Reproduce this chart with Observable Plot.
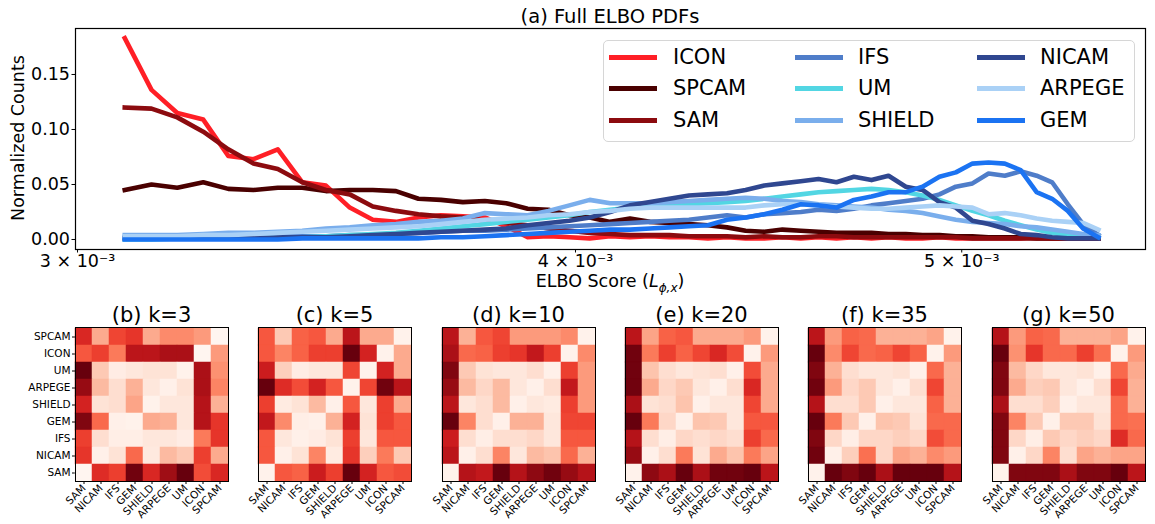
<!DOCTYPE html>
<html><head><meta charset="utf-8">
<script src="https://cdn.jsdelivr.net/npm/d3@7"></script>
<script src="https://cdn.jsdelivr.net/npm/@observablehq/plot@0.6"></script>
<style>
body{margin:0;background:#fff;font-family:"DejaVu Sans",sans-serif;color:#000;}
#root{position:relative;width:1155px;height:524px;overflow:hidden;background:#fff;}
.abs{position:absolute;white-space:nowrap;}
.leg-line{position:absolute;height:5px;width:48px;}
.leg-text{position:absolute;font-size:21px;line-height:21px;}
</style></head><body><div id="root"></div>
<script>
// ---------- data: top panel ----------
const models = ["ICON","SPCAM","SAM","IFS","UM","SHIELD","NICAM","ARPEGE","GEM"];
const modelColors = ["#ff1f26","#4a0000","#8c0b0f","#4f7dc9","#52d6e3","#7aaeec","#2f4790","#aad1f6","#1b73f2"];
// ELBO bin centres (x 1e-3)
const elboScore = [3.083,3.131,3.178,3.226,3.273,3.321,3.368,3.416,3.463,3.511,3.558,3.606,3.653,3.701,3.748,3.796,3.843,3.891,3.938,3.986,4.033,4.081,4.128,4.176,4.223,4.271,4.318,4.366,4.413,4.461,4.508,4.556,4.603,4.651,4.698,4.746,4.793,4.841,4.888,4.936,4.983,5.031,5.078,5.126,5.173,5.221,5.268,5.316,5.363,5.411];
const icon   = [0.183,0.136,0.115,0.109,0.076,0.073,0.082,0.052,0.049,0.029, 0.018,0.016,0.020,0.022,0.021,0.020,0.012,0.002,0.003,0.002, 0.001,0.003,0.002,0.003,0.002,0.002,0.001,0.002,0.001,0.001, 0.002,0.001,0.002,0.001,0.002,0.001,0.002,0.001,0.001,0.002, 0.001,0.001,0.001,0.001,0.001,0.002,0.001,0.001,0.001,0.001];
const spcam  = [0.045,0.050,0.047,0.052,0.046,0.045,0.047,0.047,0.044,0.045, 0.045,0.044,0.037,0.036,0.034,0.035,0.033,0.028,0.027,0.022, 0.020,0.016,0.019,0.016,0.015,0.014,0.013,0.011,0.008,0.007, 0.009,0.008,0.007,0.006,0.006,0.006,0.005,0.005,0.004,0.004, 0.003,0.003,0.002,0.002,0.002,0.001,0.001,0.001,0.001,0.001];
const sam    = [0.120,0.119,0.111,0.098,0.082,0.069,0.064,0.052,0.045,0.041, 0.030,0.026,0.023,0.021,0.020,0.017,0.015,0.013,0.010,0.008, 0.006,0.005,0.004,0.004,0.004,0.003,0.003,0.003,0.002,0.003, 0.002,0.002,0.003,0.003,0.002,0.002,0.002,0.002,0.002,0.002, 0.002,0.001,0.001,0.001,0.001,0.001,0.001,0.001,0.001,0.001];
const ifs    = [0.002,0.002,0.002,0.002,0.002,0.002,0.003,0.003,0.003,0.004, 0.004,0.005,0.006,0.007,0.008,0.008,0.009,0.010,0.011,0.012, 0.013,0.014,0.015,0.016,0.017,0.018,0.020,0.022,0.020,0.023, 0.024,0.025,0.027,0.026,0.028,0.031,0.033,0.035,0.037,0.041, 0.048,0.051,0.060,0.058,0.062,0.058,0.052,0.032,0.014,0.004];
const um     = [0.000,0.000,0.001,0.001,0.001,0.001,0.002,0.002,0.003,0.004, 0.005,0.006,0.008,0.010,0.012,0.014,0.016,0.018,0.020,0.022, 0.025,0.027,0.029,0.031,0.032,0.032,0.033,0.034,0.035,0.037, 0.039,0.041,0.043,0.044,0.045,0.046,0.045,0.043,0.040,0.036, 0.031,0.026,0.022,0.017,0.013,0.009,0.006,0.004,0.002,0.002];
const shield = [0.004,0.004,0.004,0.005,0.006,0.006,0.007,0.008,0.010,0.011, 0.013,0.014,0.016,0.017,0.019,0.024,0.023,0.022,0.026,0.031, 0.036,0.033,0.033,0.033,0.034,0.035,0.036,0.037,0.038,0.037, 0.035,0.034,0.032,0.031,0.030,0.029,0.027,0.026,0.024,0.021, 0.018,0.016,0.015,0.014,0.012,0.011,0.009,0.007,0.005,0.004];
const nicam  = [0.001,0.001,0.001,0.001,0.001,0.001,0.002,0.002,0.002,0.003, 0.004,0.005,0.006,0.007,0.008,0.009,0.010,0.013,0.015,0.017, 0.020,0.025,0.031,0.034,0.037,0.040,0.041,0.042,0.045,0.049, 0.051,0.053,0.055,0.052,0.057,0.054,0.058,0.048,0.045,0.034, 0.029,0.017,0.014,0.010,0.005,0.004,0.002,0.001,0.001,0.001];
const arpege = [0.003,0.003,0.003,0.004,0.004,0.005,0.006,0.007,0.008,0.009, 0.010,0.011,0.012,0.014,0.016,0.018,0.019,0.020,0.022,0.023, 0.025,0.026,0.028,0.029,0.029,0.029,0.029,0.029,0.029,0.031, 0.032,0.032,0.031,0.030,0.029,0.028,0.028,0.029,0.030,0.031, 0.030,0.029,0.023,0.024,0.022,0.019,0.017,0.016,0.015,0.009];
const gem    = [0.000,0.000,0.000,0.000,0.000,0.000,0.000,0.001,0.001,0.001, 0.001,0.001,0.001,0.002,0.002,0.003,0.004,0.005,0.006,0.007, 0.008,0.009,0.009,0.010,0.011,0.012,0.013,0.018,0.020,0.023, 0.027,0.032,0.031,0.029,0.036,0.039,0.043,0.043,0.048,0.057, 0.061,0.069,0.070,0.069,0.063,0.043,0.037,0.026,0.010,0.002];
const seriesValues = [icon, spcam, sam, ifs, um, shield, nicam, arpege, gem];
const xTicks = [0.003, 0.004, 0.005];
const xTickLabels = ["3 × 10⁻³", "4 × 10⁻³", "5 × 10⁻³"];
const yTicks = [0, 0.05, 0.10, 0.15];

// ---------- data: distance matrices (rows top→bottom, cols left→right) ----------
const colOrder = ["SAM","NICAM","IFS","GEM","SHIELD","ARPEGE","UM","ICON","SPCAM"];
const rowOrder = ["SPCAM","ICON","UM","ARPEGE","SHIELD","GEM","IFS","NICAM","SAM"];
const panelTitles = ["(b) k=3","(c) k=5","(d) k=10","(e) k=20","(f) k=35","(g) k=50"];
const distK3 = [
 [0.70,0.30,0.60,0.65,0.30,0.40,0.40,0.35,0.00],
 [0.55,0.62,0.45,0.80,0.80,0.85,0.85,0.00,0.35],
 [1.00,0.20,0.05,0.08,0.10,0.10,0.02,0.85,0.38],
 [0.90,0.25,0.12,0.28,0.08,0.03,0.10,0.85,0.42],
 [0.72,0.10,0.12,0.32,0.02,0.08,0.08,0.82,0.28],
 [0.95,0.50,0.03,0.02,0.30,0.28,0.08,0.82,0.65],
 [0.62,0.12,0.04,0.04,0.08,0.08,0.05,0.45,0.65],
 [0.65,0.03,0.10,0.50,0.07,0.25,0.20,0.62,0.30],
 [0.00,0.68,0.62,0.98,0.70,0.88,1.00,0.58,0.70]];
const distK5 = [
 [0.55,0.20,0.52,0.55,0.30,0.80,0.30,0.30,0.02],
 [0.55,0.42,0.52,0.62,0.62,1.00,0.72,0.02,0.30],
 [0.75,0.18,0.05,0.08,0.08,0.60,0.02,0.72,0.30],
 [1.00,0.68,0.58,0.72,0.55,0.02,0.60,0.98,0.80],
 [0.62,0.06,0.10,0.25,0.03,0.55,0.08,0.62,0.30],
 [0.78,0.40,0.04,0.03,0.28,0.72,0.10,0.62,0.55],
 [0.55,0.08,0.03,0.05,0.10,0.62,0.08,0.55,0.55],
 [0.55,0.03,0.10,0.42,0.06,0.65,0.18,0.45,0.20],
 [0.02,0.55,0.52,0.75,0.62,1.00,0.72,0.55,0.58]];
const distK10 = [
 [0.80,0.28,0.55,0.60,0.35,0.35,0.35,0.40,0.02],
 [0.85,0.50,0.52,0.62,0.65,0.78,0.62,0.02,0.40],
 [0.95,0.20,0.10,0.08,0.08,0.12,0.03,0.62,0.35],
 [0.90,0.25,0.15,0.25,0.08,0.03,0.12,0.78,0.35],
 [0.80,0.08,0.12,0.25,0.03,0.08,0.06,0.62,0.35],
 [1.00,0.42,0.12,0.03,0.28,0.28,0.08,0.60,0.60],
 [0.75,0.12,0.04,0.12,0.12,0.15,0.08,0.55,0.55],
 [0.80,0.03,0.12,0.42,0.08,0.25,0.22,0.50,0.28],
 [0.02,0.82,0.78,1.00,0.82,0.92,0.98,0.90,0.82]];
const distK20 = [
 [0.80,0.32,0.52,0.55,0.30,0.30,0.30,0.35,0.02],
 [0.98,0.45,0.62,0.52,0.60,0.70,0.58,0.02,0.35],
 [0.98,0.22,0.12,0.08,0.10,0.12,0.03,0.58,0.30],
 [0.98,0.30,0.15,0.20,0.08,0.03,0.12,0.70,0.30],
 [0.85,0.10,0.12,0.22,0.03,0.08,0.08,0.60,0.30],
 [1.00,0.45,0.15,0.03,0.22,0.20,0.08,0.55,0.55],
 [0.82,0.12,0.04,0.15,0.12,0.15,0.12,0.62,0.50],
 [0.90,0.03,0.12,0.45,0.10,0.30,0.22,0.45,0.32],
 [0.02,0.92,0.85,1.00,0.85,0.98,0.98,1.00,0.80]];
const distK35 = [
 [0.80,0.35,0.52,0.50,0.28,0.28,0.28,0.32,0.02],
 [1.00,0.40,0.60,0.50,0.52,0.60,0.52,0.02,0.35],
 [0.95,0.28,0.12,0.08,0.08,0.10,0.03,0.50,0.28],
 [0.98,0.35,0.15,0.20,0.08,0.03,0.12,0.60,0.28],
 [0.82,0.12,0.12,0.20,0.03,0.08,0.08,0.52,0.28],
 [1.00,0.45,0.20,0.03,0.22,0.20,0.10,0.50,0.50],
 [0.95,0.15,0.04,0.15,0.15,0.18,0.15,0.58,0.50],
 [0.98,0.03,0.18,0.48,0.15,0.32,0.28,0.40,0.35],
 [0.02,1.00,0.95,1.00,0.85,1.00,1.00,1.00,0.82]];
const distK50 = [
 [0.82,0.35,0.52,0.50,0.28,0.28,0.28,0.32,0.02],
 [1.00,0.38,0.65,0.50,0.50,0.62,0.48,0.02,0.35],
 [0.95,0.25,0.15,0.08,0.08,0.10,0.03,0.50,0.30],
 [0.95,0.30,0.18,0.20,0.08,0.03,0.12,0.60,0.28],
 [0.85,0.12,0.12,0.18,0.03,0.08,0.08,0.50,0.28],
 [0.95,0.42,0.20,0.03,0.20,0.20,0.10,0.50,0.48],
 [0.95,0.15,0.04,0.20,0.15,0.18,0.15,0.68,0.50],
 [0.95,0.03,0.15,0.42,0.12,0.32,0.28,0.32,0.32],
 [0.02,0.95,0.95,0.95,0.85,0.95,0.95,1.00,0.80]];
const panels = [distK3, distK5, distK10, distK20, distK35, distK50];

// ---------- build ----------
const root = document.getElementById("root");
function addDiv(html, css) {
  const d = document.createElement("div");
  d.className = "abs"; d.innerHTML = html; Object.assign(d.style, css); root.appendChild(d); return d;
}

const rows = [];
models.forEach((m, k) => seriesValues[k].forEach((v, i) => rows.push({model: m, elbo: elboScore[i] * 1e-3, value: v})));

const topChart = Plot.plot({
  width: 1155, height: 290,
  marginLeft: 75, marginRight: 10, marginTop: 28, marginBottom: 41,
  style: {background: "transparent", fontFamily: "DejaVu Sans", fontSize: "17.5px", color: "#000", overflow: "visible"},
  x: {type: "log", domain: [2.9965e-3, 5.56e-3], ticks: xTicks, tickFormat: (d) => xTickLabels[xTicks.indexOf(d)], label: null, tickSize: 3.5, tickPadding: 2},
  y: {domain: [-0.0091, 0.1918], ticks: yTicks, tickFormat: d3.format(".2f"), label: null, tickSize: 3.5, tickPadding: 2},
  color: {domain: models, range: modelColors},
  marks: [
    Plot.line(rows, {x: "elbo", y: "value", z: "model", stroke: "model", strokeWidth: 4.6, strokeLinejoin: "round", strokeLinecap: "square"}),
    Plot.frame({stroke: "#000", strokeWidth: 1.2})
  ]
});
topChart.style.position = "absolute"; topChart.style.left = "0px"; topChart.style.top = "0px";
root.appendChild(topChart);

addDiv("(a) Full ELBO PDFs", {left: "0px", width: "1220px", textAlign: "center", top: "5px", fontSize: "19.5px"});
addDiv("Normalized Counts", {left: "18px", top: "138px", fontSize: "17.5px", transform: "translate(-50%,-50%) rotate(-90deg)"});
addDiv('ELBO Score (<i>L</i><sub style="font-size:12px;font-style:italic">ϕ,x</sub>)', {left: "0px", width: "1220px", textAlign: "center", top: "271px", fontSize: "17.5px"});

// legend
const leg = addDiv("", {left: "603px", top: "40px", width: "530px", height: "100px", border: "1px solid #d6d6d6", borderRadius: "5px", background: "rgba(255,255,255,0.8)"});
const colX = [[608, 672], [794, 857], [976, 1039]];
const rowY = [57, 88, 120];
models.forEach((m, k) => {
  const c = Math.floor(k / 3), r = k % 3;
  const l = document.createElement("div"); l.className = "leg-line";
  Object.assign(l.style, {left: (colX[c][0] - 603) + "px", top: (rowY[r] - 40 - 3) + "px", background: modelColors[k]});
  leg.appendChild(l);
  const t = document.createElement("div"); t.className = "leg-text"; t.textContent = m;
  Object.assign(t.style, {left: (colX[c][1] - 603) + "px", top: (rowY[r] - 40 - 11) + "px"});
  leg.appendChild(t);
});

// heatmaps
const frameLefts = [75, 258, 442, 625, 808, 992];
panels.forEach((mat, p) => {
  const cells = [];
  rowOrder.forEach((r, i) => colOrder.forEach((c, j) => cells.push({row: r, col: c, v: mat[i][j]})));
  const svg = Plot.plot({
    width: 233, height: 234,
    marginLeft: 60, marginRight: 20, marginTop: 37, marginBottom: 43,
    style: {background: "transparent", fontFamily: "DejaVu Sans", fontSize: "10.5px", color: "#000", overflow: "visible"},
    x: {domain: colOrder, padding: 0, tickRotate: -45, label: null, tickSize: 3, tickPadding: 2},
    y: {domain: rowOrder, padding: 0, label: null, axis: p === 0 ? "left" : null, tickSize: 3, tickPadding: 2},
    color: {type: "linear", scheme: "reds", domain: [0, 1]},
    marks: [
      Plot.cell(cells, {x: "col", y: "row", fill: "v", stroke: "v", strokeWidth: 0.5, inset: 0}),
      Plot.frame({stroke: "#000", strokeWidth: 1})
    ]
  });
  svg.style.position = "absolute"; svg.style.left = (frameLefts[p] - 60) + "px"; svg.style.top = "290px";
  root.appendChild(svg);
  addDiv(panelTitles[p], {left: (frameLefts[p] + 76.5) + "px", top: "303px", fontSize: "21px", transform: "translateX(-50%)"});
});
</script></body></html>
